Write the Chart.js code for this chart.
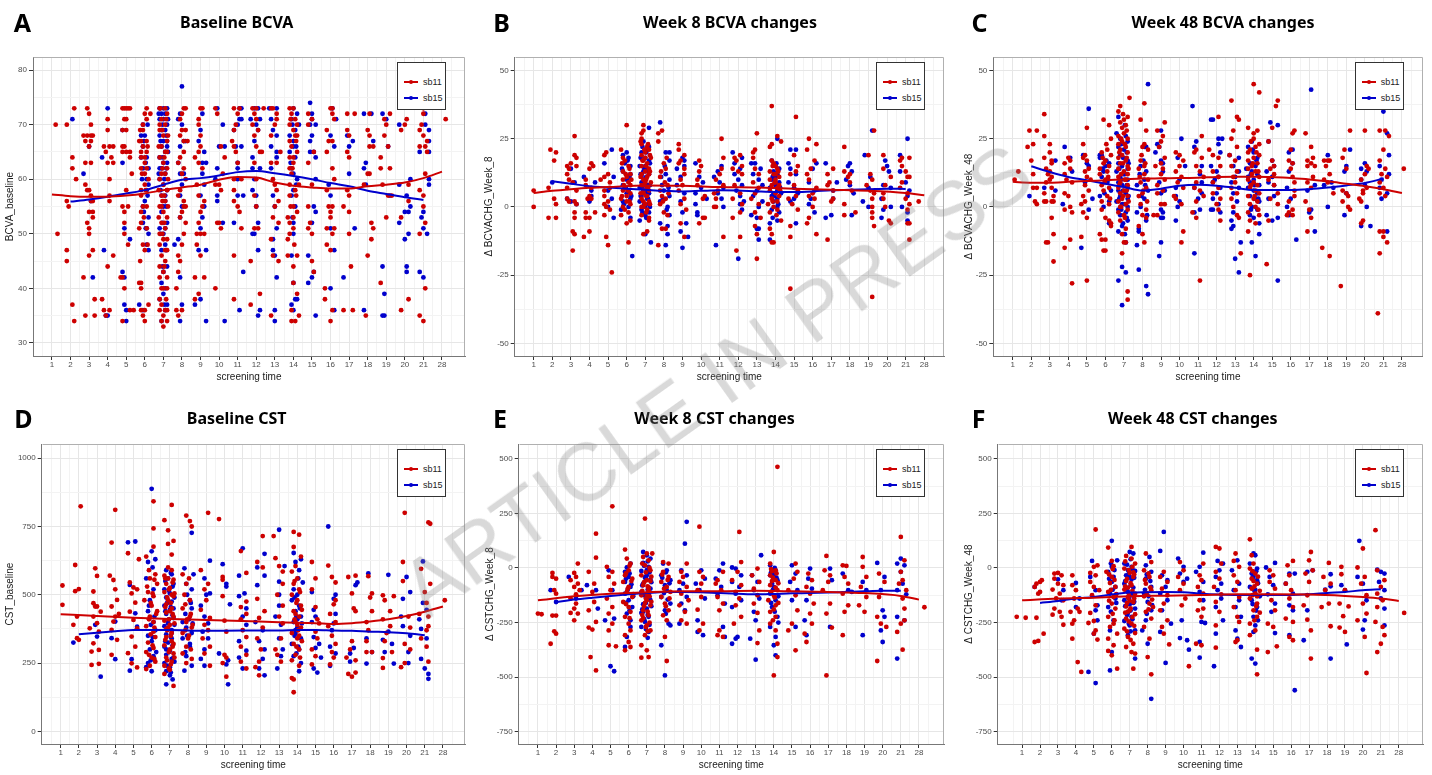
<!DOCTYPE html>
<html>
<head>
<meta charset="utf-8">
<script src="https://cdn.jsdelivr.net/npm/chart.js@4"></script>
<style>
  body { margin: 0; background: #fff; }
  #page { position: relative; width: 1432px; height: 775px; overflow: hidden; background: #fff; font-family: "Liberation Sans", Arial, sans-serif; }
  .panel { position: absolute; }
  .panel canvas { position: absolute; left: 0; top: 0; }
  .letter { position: absolute; transform: translate(-50%, -50%); font: bold 25px "Noto Sans", sans-serif; color: #000; }
  .title { position: absolute; transform: translate(-50%, -50%); font: bold 16px "Noto Sans", sans-serif; color: #000; white-space: nowrap; }
  .legend { position: absolute; width: 49px; height: 48px; box-sizing: border-box; border: 1px solid #333; background: #fff; }
  .key { position: absolute; left: 0; width: 100%; height: 12px; }
  .key i { position: absolute; left: 6px; top: 5px; width: 14px; height: 2px; }
  .key b { position: absolute; left: 11px; top: 4px; width: 4px; height: 4px; border-radius: 50%; }
  .key span { position: absolute; left: 25px; top: 0; font-size: 9px; line-height: 12px; color: #222; }
  #mark { position: absolute; left: 716px; top: 380px; transform: translate(-50%, -50%) rotate(-35.4deg); font: 82px "Liberation Sans", Arial, sans-serif; color: rgba(128,128,128,0.3); white-space: nowrap; pointer-events: none; }
</style>
</head>
<body>
<div id="page"><div id="mark">ARTICLE IN PRESS</div></div>
<script>
const RED = '#cd0000';
const BLUE = '#0000cd';

const screeningLabels = ['1','2','3','4','5','6','7','8','9','10','11','12','13','14','15','16','17','18','19','20','21','28'];
const xGrid = [0.5,1,1.5,2,2.5,3,3.5,4,4.5,5,5.5,6,6.5,7,7.5,8,8.5,9,9.5,10,10.5,11,11.5,12,12.5,13,13.5,14,14.5,15,15.5,16,16.5,17,17.5,18,18.5,19,19.5,20,20.5,21,21.5,22,22.5];

const bcvaTicks = [30,40,50,60,70,80];
const bcvaMinor = [35,45,55,65,75];
const chgTicks = [-50,-25,0,25,50];
const chgMinor = [-37.5,-12.5,12.5,37.5];
const cstTicks = [0,250,500,750,1000];
const cstMinor = [125,375,625,875];
const cstChgTicks = [-750,-500,-250,0,250,500];
const cstChgMinor = [-625,-375,-125,125,375];

// A: Baseline BCVA
const bcvaBaseSb11 = [[1.2,70],[1.3,50],
[1.8,56],[1.9,55],[1.8,47],[1.8,45],[2.1,64],[2.1,62],[2.3,60],[2.2,73],[2.1,37],[2.2,34],[1.8,70],
[2.9,73],[3,72],[2.7,68],[2.9,68],[3.1,68],[3.2,68],[2.8,67],[3.1,67],[3,66],[2.8,63],[3.1,63],[2.8,59],[2.9,58],[3,58],[3.1,57],[3.1,56],[3.2,56],[3,54],[3.2,54],[3.2,53],[2.9,52],[3,51],[3,50],[3.2,47],[3,46],[2.7,42],[3.3,38],[2.8,35],[3.3,35],[3.1,70],
[4,71],[4,69],[3.8,66],[4.1,66],[4.3,66],[3.9,65],[4.2,64],[4,63],[4.3,63],[4.1,60],[4.1,57],[4.1,56],[4.3,46],[4,44],[3.7,38],[3.8,36],[4.1,36],[3.9,35],
[4.8,73],[4.9,73],[5,73],[5.1,73],[5.2,73],[4.9,71],[5,71],[4.8,69],[5,69],[4.8,66],[4.9,66],[4.8,65],[5,65],[5.2,65],[5.2,64],[5.3,61],[5,58],[4.8,55],[5.1,55],[4.9,54],[4.9,52],[4.9,50],[5.1,48],[4.7,42],[4.8,42],[4.9,40],[5.2,36],[5.4,36],[4.8,34],
[6.1,73],[6,72],[6.3,72],[6.1,71],[5.9,70],[5.9,69],[5.7,67],[5.8,67],[6.1,67],[5.9,66],[5.8,65],[6.1,65],[5.8,64],[6,64],[6,63],[5.8,62],[6.1,62],[6,61],[6.2,60],[6,59],[5.8,58],[5.8,57],[5.9,55],[6.1,55],[5.8,54],[5.8,52],[5.7,51],[6.1,51],[5.9,48],[6,47],[5.7,41],[5.8,41],[5.8,40],[6.2,37],[5.8,36],[6,36],[5.9,35],[6,34],
[5.75,69],[6.15,66],[5.85,61],[6.05,58],[5.95,53],[6.15,48],[5.75,45],
[7.1,73],[6.8,73],[7.2,72],[6.9,71],[7.1,70],[6.8,69],[7,68],[7.2,67],[6.9,66],[7.1,65],[6.8,64],[7,63],[7.2,62],[6.9,61],[7.1,61],[6.8,60],[7,59],[7.2,58],[6.9,57],[7.1,56],[6.8,55],[7,54],[7.2,53],[6.9,52],[7.1,51],[6.8,50],[7,49],[7.2,47],[6.9,46],[7.1,45],[6.8,44],[7,43],[7.2,42],[6.8,42],[7,40],[7.2,40],[6.8,38],[7.1,36],[6.8,36],[7,35],[7.2,34],[6.9,34],[7,33],[7.1,47],[6.9,55],[7.2,65],[6.8,70],
[6.85,73],[7.15,71],[6.95,69],[7.25,68],[6.75,66],[7.05,64],[6.95,62],[7.25,60],[6.75,58],[7.05,57],[6.95,56],[7.25,55],[6.75,53],[7.05,52],[6.95,50],[7.2,49],[6.8,48],[7.05,44],[6.9,40],[7.15,38],[6.9,37],[7.2,36],
[8.1,73],[8.2,73],[8,72],[7.9,71],[8,69],[8.2,69],[7.9,68],[8.1,67],[8.3,67],[8.1,65],[7.9,64],[7.8,63],[8.1,62],[8,61],[8.2,60],[7.9,58],[7.8,57],[8.1,56],[8.1,55],[8.2,55],[8,54],[7.9,53],[8.2,52],[8.1,50],[8,48],[7.8,46],[7.9,45],[7.8,43],[7.7,40],[7.7,36],[8,36],[7.8,35],
[9,73],[9.1,73],[8.9,71],[8.9,70],[9,68],[9,66],[8.9,65],[8.7,64],[8.9,63],[9.1,62],[8.8,59],[8.9,57],[9.2,56],[9.1,55],[9,54],[8.9,52],[8.8,50],[9,50],[9.2,50],[8.8,48],[9,46],[8.7,42],[9.2,42],[8.9,39],[8.7,38],
[9.8,73],[9.9,72],[10.1,66],[10.3,64],[10.2,61],[9.8,59],[10,59],[10.1,58],[9.9,52],[10,52],[10.1,51],[9.8,40],
[10.8,73],[11.1,73],[11,72],[10.9,70],[10.8,69],[10.7,67],[10.8,66],[10.9,65],[11,63],[10.8,60],[11.2,60],[10.8,58],[10.8,56],[11,55],[11.1,54],[11.2,51],[10.8,46],[10.8,38],
[11.8,73],[12,73],[12.4,73],[11.9,72],[12,71],[11.8,70],[12.1,69],[11.9,68],[12,66],[12.2,65],[12.3,65],[11.9,63],[12,60],[11.9,57],[12,55],[11.9,51],[12.1,51],[11.7,45],[12.2,39],[11.7,37],
[12.8,73],[12.9,73],[13.1,72],[13.1,71],[13,70],[12.8,68],[13.3,65],[12.8,63],[13.1,63],[12.9,60],[13,59],[13.1,58],[13.2,56],[13,55],[12.9,53],[13.2,52],[12.8,49],[12.9,46],[13.2,45],[12.8,35],
[13.8,73],[14,73],[13.9,72],[14.1,71],[13.8,70],[14.2,70],[14,69],[14.1,68],[14.2,68],[13.8,67],[13.9,66],[14.2,65],[13.8,64],[14,64],[14,63],[13.8,62],[13.9,61],[13.8,59],[14.3,59],[14.1,58],[13.8,57],[14,55],[14.2,54],[13.7,53],[14,53],[13.8,52],[14,51],[13.8,50],[13.7,49],[13.7,46],[14.2,46],[14,44],[14,41],[14.2,39],[13.9,36],[14.3,35],[13.9,34],[14.1,34],
[13.85,71],[14.15,67],[13.95,62],[14.15,57],[13.85,55],[14.05,48],
[14.8,72],[15,71],[14.8,70],[15.1,65],[14.8,63],[15,59],[14.8,55],[14.9,52],[14.8,51],[15,50],[15,45],[15.1,43],
[16,73],[16.1,73],[16.1,72],[16.2,71],[15.8,69],[15.9,67],[16.1,67],[15.8,65],[16.1,62],[16.2,60],[15.8,58],[15.9,55],[16.1,55],[16,54],[16,53],[15.8,51],[16.2,51],[16.1,50],[15.8,48],[16,47],[15.7,40],[15.7,38],[16.1,36],[16,34],
[16.9,72],[17.3,72],[16.9,69],[17,68],[16.9,65],[17,64],[16.9,58],[17,57],[16.7,55],[17,54],[17,50],[17.1,44],[16.7,36],[17.2,36],
[18.1,72],[18,69],[18.1,68],[18.1,66],[18.3,66],[18,61],[18.1,61],[17.8,59],[18.2,52],[18.3,51],[18.2,49],[18,46],[17.9,35],
[19.2,72],[18.9,71],[19,70],[18.9,68],[19.1,66],[18.7,64],[18.7,62],[19.2,62],[18.8,59],[19.1,57],[19.3,57],[19,53],[18.7,41],
[20.1,71],[20,70],[19.8,69],[20.2,59],[20.2,56],[19.8,53],[20.2,38],[19.8,36],
[21,73],[21,72],[20.9,70],[20.8,69],[21,68],[21.2,67],[20.8,66],[21.1,66],[21.2,65],[21.1,61],[20.8,58],[21,57],[21,55],[21.1,52],[20.8,50],[21.1,40],[20.8,35],[21,34],
[22.2,71]];
const bcvaBaseSb15 = [[2.1,71],
[3,66],[2.7,61],[3.1,56],[3.2,42],
[4,73],[3.7,64],[3.8,47],[3.9,35],[4,35],
[4.8,69],[4.8,63],[4.9,51],[5.2,49],[4.8,43],[4.9,42],[4.9,37],[5,36],[5,34],
[5.9,70],[5.8,68],[6,68],[5.9,66],[5.8,64],[6.1,64],[5.9,62],[6.2,62],[6.1,60],[6.2,59],[6.1,58],[6,56],[5.9,55],[6.2,53],[5.9,52],[6.1,51],[6.2,50],[6.1,48],[6.2,47],[5.7,37],[5.9,36],
[6.15,70],[5.95,67],[6.05,63],[5.85,60],[6.15,57],[5.95,54],[6.05,51],
[6.8,73],[7,73],[7.2,73],[6.9,72],[7.1,72],[6.8,71],[7,71],[7.2,70],[6.9,69],[7.1,69],[6.8,68],[7,67],[7.2,67],[6.9,66],[7.1,65],[6.8,64],[7,63],[7.2,63],[6.9,62],[7.1,61],[6.8,60],[7,59],[7.2,58],[6.9,57],[7.1,56],[7,55],[6.9,54],[7.2,52],[6.8,51],[7,50],[7.1,48],[6.9,47],[7.2,44],[7,43],[6.9,41],[7.1,40],[7,39],[6.8,38],[7.2,37],[7.1,36],[6.9,34],[7.1,57],[6.8,62],[7.2,66],
[6.75,72],[7.25,71],[6.95,70],[7.15,68],[6.85,67],[7.25,65],[6.95,64],[7.15,62],[6.75,61],[7.05,60],[6.85,58],[7.15,55],[6.95,52],[7.1,51],[6.85,50],[7.15,47],[6.95,44],[7.05,37],
[8,77],[7.9,72],[7.8,71],[8,70],[8.1,67],[8.2,67],[7.9,66],[7.8,63],[7.9,61],[8.1,61],[8,59],[7.9,57],[8,55],[7.9,53],[7.8,49],[7.6,48],[7.9,42],[8,37],[7.9,34],
[9.1,72],[9,69],[8.9,67],[9.2,65],[9.1,63],[9.3,63],[9.1,61],[9.2,59],[9,57],[9.2,55],[9.1,53],[9,51],[8.9,47],[9.3,47],[8.7,37],[9,38],[9.3,34],
[9.9,73],[10.2,70],[10,66],[10.3,66],[9.9,62],[9.8,60],[9.9,57],[9.9,56],[10.2,52],[10.3,34],
[11.1,73],[11.2,73],[11.1,71],[11.2,71],[11,70],[10.8,69],[10.9,66],[11.2,66],[11,63],[11,62],[11,60],[11,57],[11.3,57],[10.8,52],[11.3,43],[11.1,36],
[11.9,73],[12.1,73],[11.7,71],[12.2,71],[12,70],[12.1,69],[11.9,67],[11.8,64],[11.8,62],[12.2,62],[11.9,60],[11.8,58],[12,57],[12,55],[12.1,52],[11.8,50],[11.9,50],[12.1,47],[12.2,36],[12.1,35],
[12.7,73],[13.1,73],[12.8,71],[12.9,69],[13.1,68],[12.8,66],[13.1,65],[13.1,64],[12.8,62],[12.9,57],[13,55],[13.1,51],[12.9,49],[12.9,47],[13,46],[13.1,42],[13,36],[13,34],
[14,73],[14.2,72],[13.9,71],[14.3,70],[14.1,69],[13.8,68],[14,67],[14,66],[13.8,65],[14.1,64],[13.9,62],[14,61],[14.2,60],[14,58],[13.9,57],[14.1,55],[14,52],[14,50],[13.9,46],[14,41],[14.1,38],[14.2,38],[13.9,37],[14,36],
[13.95,70],[14.15,66],[13.85,63],[14.15,59],[13.95,53],
[14.9,74],[15,72],[15,71],[14.9,70],[15.2,70],[15,68],[14.9,67],[14.9,65],[15.1,65],[15.2,64],[15.2,60],[15.1,55],[15.2,54],[15,52],[14.8,46],[15.1,43],[15,42],[14.8,41],[15.2,35],
[16.1,73],[16.3,71],[16,68],[16.2,66],[15.9,59],[16,57],[16,51],[16.2,47],[16,40],[16.2,36],
[16.9,68],[17.2,67],[17,66],[17,61],[17.3,51],[16.7,42],
[17.8,72],[18.2,72],[18.3,67],[17.9,63],[17.8,62],[17.9,59],[17.8,36],
[18.8,72],[19,71],[19.1,66],[19.2,57],[18.8,44],[18.9,39],[18.8,35],[18.9,35],
[19.7,70],[19.7,59],[20.3,60],[20.1,57],[20,54],[20.2,54],[19.7,52],[20.2,50],[20,49],[20.1,44],[20.1,43],[20.3,55],
[21.1,72],[21.1,70],[21.3,69],[21.3,67],[20.8,65],[21.3,65],[21.3,60],[21.3,59],[21,54],[20.9,53],[21,51],[21.2,50],[20.8,43],[21,42]];
const bcvaBaseFit11 = [[1,57.2],[2,56.9],[3,56.8],[4,56.8],[5,57.0],[6,57.4],[7,58.0],[8,58.5],[9,59.0],[10,59.9],[11,60.4],[12,60.3],[13,59.4],[14,58.8],[15,58.5],[16,58.3],[17,58.3],[18,58.7],[19,59.0],[20,59.4],[21,60.2],[22,61.4]];
const bcvaBaseFit15 = [[2,55.9],[3,56.3],[4,56.8],[5,57.4],[6,58.0],[7,59.0],[8,59.9],[9,60.2],[10,60.7],[11,61.3],[12,61.5],[13,61.1],[14,60.6],[15,60.0],[16,59.3],[17,58.7],[18,57.9],[19,57.3],[20,56.7],[21,56.2]];

// B: Week 8 BCVA changes
const bcvaW8Sb11 = [[1,6],[1,0],
[1.9,21],[2.1,17],[2.2,20],[1.8,7],[2.1,3],[2.2,1],[1.8,-4],[2.2,-4],
[3.2,26],[3.2,19],[3.3,18],[3,16],[2.8,15],[3.3,15],[2.9,14],[2.8,12],[2.9,10],[3.1,9],[2.8,7],[3.3,6],[2.8,3],[2.9,2],[3.2,2],[3.3,1],[3.2,-2],[3.2,-4],[3.1,-9],[3.2,-10],[3.1,-16],
[4.1,16],[4.2,15],[4,14],[3.8,10],[3.8,8],[4.1,7],[4,4],[4.1,3],[3.9,3],[3.8,-2],[4.3,-2],[3.8,-4],[4,-4],[4,-9],[3.7,-11],
[4.9,20],[4.8,19],[5,12],[4.8,11],[4.6,10],[5.1,9],[5.1,7],[4.8,6],[4.8,4],[5,2],[4.8,1],[4.9,0],[5.1,-1],[4.8,-3],[4.9,-11],[5,-14],[5.2,-24],
[6,30],[5.7,21],[5.8,18],[5.9,17],[6.1,15],[5.8,13],[6.2,12],[6,11],[5.8,10],[6.1,9],[6.2,8],[5.9,7],[5.8,6],[6.2,5],[6,4],[5.7,3],[6,2],[6.2,1],[5.8,0],[6.1,-2],[5.7,-3],[6.2,-5],[6,-6],[6.1,-13],
[5.75,16],[6.15,14],[5.95,12],[6.25,10],[5.85,8],[6.05,6],[5.75,4],[6.15,2],[5.9,-1],
[6.9,30],[6.9,28],[6.8,27],[6.8,25],[6.8,23],[7.1,22],[7.2,21],[7,20],[6.8,19],[7.3,18],[6.9,17],[7.1,16],[6.8,15],[7.2,14],[7,13],[6.8,12],[7.1,11],[6.9,10],[7.3,9],[6.8,8],[7.1,7],[7.2,6],[6.9,5],[7.1,4],[6.8,3],[7.2,2],[7,1],[6.9,0],[7.1,-1],[6.8,-3],[7.2,-5],[7.1,-9],[6.9,-10],[7,18],[7.2,12],[6.9,6],[7,9],
[6.75,24],[7.15,23],[6.95,21],[7.25,19],[6.85,17],[7.05,15],[7.25,13],[6.75,11],[7.05,10],[6.9,8],[7.15,7],[6.75,5],[7.05,4],[6.9,2],[7.25,1],[6.8,0],[7.05,-2],[7.2,-4],
[7.9,28],[7.7,27],[7.7,24],[8,16],[8.1,14],[7.8,11],[8.2,8],[7.8,6],[7.9,4],[8.1,3],[7.8,1],[8,-2],[8.2,-3],[7.9,-8],[8.1,-8],[7.7,-14],
[8.15,18],[7.85,13],[8.05,9],[8.25,5],[7.95,2],
[8.8,23],[8.8,21],[9.1,19],[8.9,17],[8.8,16],[9.1,14],[9.1,12],[8.9,10],[9,8],[8.8,6],[9.1,3],[8.9,1],[9.2,-1],[8.9,-6],[9.1,-11],
[9.9,17],[10,15],[9.9,13],[9.8,10],[9.8,8],[10.2,4],[10.1,3],[10.1,-4],[10.2,-4],[9.9,-6],
[11.1,25],[11.2,18],[11.1,14],[11,12],[10.8,10],[11.2,8],[10.9,6],[10.7,5],[10.8,3],[10.7,0],[10.8,0],[11.2,-11],
[12.1,19],[11.8,18],[11.9,17],[12.2,15],[11.7,14],[12,13],[12.2,12],[11.8,8],[12.1,5],[11.7,3],[12.2,1],[12.1,-2],[11.7,-4],[12.1,-11],[11.9,-16],
[13,27],[12.9,21],[12.8,20],[12.8,18],[12.9,14],[13.1,12],[12.8,9],[13.1,7],[12.9,5],[12.7,3],[13.1,1],[12.9,-2],[13.2,-4],[12.9,-7],[13,-10],[13,-19],
[13.8,37],[14.1,26],[14.3,24],[13.8,23],[13.7,22],[13.8,17],[13.9,16],[14,15],[14.1,14],[13.7,13],[14,12],[14.2,11],[13.7,10],[14,9],[13.8,8],[14.1,7],[13.7,6],[14,5],[14.2,4],[13.8,3],[14.1,2],[13.6,1],[13.9,0],[14.1,-1],[13.7,-2],[14.3,-5],[13.7,-8],[13.8,-10],[13.8,-13],[13.9,-13],[14,10],[13.9,12],[14.2,8],
[13.85,15],[14.15,13],[13.95,9],[14.25,6],[13.85,2],[14.05,-3],
[15.1,33],[15,19],[15.2,15],[15.1,13],[14.8,12],[15,8],[15.2,6],[15.1,4],[14.7,3],[14.9,1],[15.2,-1],[14.8,-7],[14.8,-11],[14.8,-30],
[15.8,25],[16.2,23],[15.7,21],[16.1,17],[15.9,14],[15.7,12],[15.8,10],[16.2,7],[16,5],[15.8,4],[16.1,3],[16,0],[15.8,-4],[15.7,-6],[16.2,-10],
[17.1,14],[16.8,12],[16.9,9],[16.8,8],[17.1,6],[17.1,3],[17,2],[16.8,-12],
[17.7,22],[17.7,13],[18,12],[17.9,11],[18,9],[18.1,6],[17.7,1],[18.3,-2],[17.7,-3],
[19.3,28],[19,19],[19.1,12],[19.2,10],[18.9,8],[19.1,6],[19.3,5],[19.2,3],[19.2,0],[19.2,-2],[19.2,-4],[19.3,-7],[19.2,-33],
[19.8,19],[19.8,14],[20.2,11],[19.9,8],[19.8,5],[19.8,3],[19.9,0],[20.1,-5],[20.2,-6],
[20.8,18],[21.2,18],[20.7,17],[20.8,15],[21,13],[21.1,11],[21.2,11],[20.8,9],[20.7,7],[21.1,5],[21,3],[21.2,1],[21.1,-1],[21.1,-6],[21.2,-6],[21.2,-12],
[21.7,2]];
const bcvaW8Sb15 = [[2,9],
[3,14],[3.2,9],[2.8,3],[3,2],[3.3,1],
[3.7,11],[4.3,9],[4.1,6],[4.1,4],[4,2],
[5.2,21],[4.8,16],[5.3,11],[5,6],[5.2,3],[5,0],[5.3,-4],
[6,20],[5.8,19],[6.1,18],[5.9,16],[6.2,15],[5.8,13],[6.2,12],[6,10],[5.8,8],[6.1,6],[6,5],[6.2,3],[5.8,2],[6.1,0],[5.7,-1],[6.2,-4],[6.3,-18],
[6.05,17],[5.75,14],[6.15,11],[5.95,7],[6.25,4],[5.85,1],
[7.2,29],[6.9,24],[7.2,22],[7.1,21],[6.8,20],[7,18],[7.2,17],[6.7,15],[7.1,14],[6.9,13],[7.2,12],[6.8,11],[7,10],[6.8,9],[7.1,8],[6.7,7],[6.9,6],[7.2,5],[6.8,4],[7.1,3],[6.7,2],[7.2,1],[7,0],[6.8,-1],[7.2,-2],[7,-3],[6.7,-5],[7,-10],[7.3,-13],[7,15],[6.9,9],[7.1,6],[6.8,12],
[6.85,22],[7.05,20],[6.75,18],[7.25,16],[6.95,14],[7.15,13],[6.75,12],[7.05,11],[6.95,9],[7.25,8],[6.85,7],[7.05,5],[6.75,4],[7.15,3],[6.95,1],[7.25,0],[6.85,-2],[7.05,-4],
[7.8,31],[8.1,20],[8.3,20],[8.3,17],[8.1,12],[8.3,10],[7.9,8],[8,6],[8.3,4],[7.8,2],[8.2,0],[8.3,-3],[7.8,-6],[8.2,-7],[8.2,-10],[8.1,-14],[8.2,-18],
[8.05,15],[7.85,11],[8.25,7],[7.95,3],[8.15,-1],
[9,18],[9.1,17],[9.1,15],[8.7,14],[8.9,11],[8.7,8],[9.1,5],[8.9,2],[9,-2],[9.2,-6],[8.9,-9],[9.3,-11],[9,-15],
[9.7,16],[9.9,11],[10.1,9],[10,7],[9.7,5],[10.3,3],[9.7,1],[9.8,-2],[9.8,-3],
[11.1,15],[10.9,13],[10.7,11],[11,9],[11.2,7],[10.9,5],[11.1,3],[11.2,0],[10.8,-14],
[11.7,20],[12.2,18],[11.8,16],[12.1,14],[11.8,12],[12,10],[12.2,8],[11.9,6],[12.1,4],[12.3,2],[12.1,1],[12.2,-1],[12,-19],
[12.7,16],[12.9,16],[13.2,14],[12.8,12],[13.1,10],[13.3,8],[13,6],[12.8,4],[13.3,2],[13.1,0],[12.7,-3],[13,-4],[13,-8],[13.1,-8],[13.1,-12],
[14.1,25],[13.8,17],[14,15],[14.2,14],[13.9,13],[14.1,12],[13.8,10],[14.2,9],[14,8],[13.7,7],[14.1,6],[14.3,5],[13.8,4],[14.1,3],[13.9,2],[14.1,0],[13.8,-1],[14.2,-2],[14.1,-5],[13.7,-6],[13.7,-12],[14,11],[13.9,5],
[14.05,16],[13.85,11],[14.25,7],[13.95,4],[14.15,1],[13.85,-4],
[14.8,21],[15.1,21],[14.7,16],[14.8,14],[15.1,12],[14.7,9],[15,7],[15.2,5],[15,3],[14.8,2],[15.1,-6],
[16.2,16],[16,14],[15.8,9],[16.1,6],[15.9,3],[15.8,1],[16.1,-2],
[16.7,16],[17.3,9],[17.1,6],[17.1,3],[17,-3],[16.7,-4],
[18,16],[17.9,15],[18.1,13],[17.8,10],[18,8],[18.2,5],[18.1,-3],
[19.2,28],[18.8,19],[19.1,11],[19,7],[18.7,2],[19,0],
[19.9,17],[20,15],[20.1,13],[19.8,8],[20.2,7],[19.7,3],[19.8,-1],[19.7,-4],[20.2,0],
[21.1,25],[20.7,19],[20.7,13],[21,9],[21.2,6],[21.1,4],[20.8,0],[21.1,-2],[21.1,-5]];
const bcvaW8Fit11 = [[1,5.1],[2,5.9],[3,6.5],[4,7.0],[5,7.3],[7,7.9],[9,7.8],[11,7.3],[13,7.1],[15,6.7],[17,6.3],[19,5.9],[21,5.1],[22,4.3]];
const bcvaW8Fit15 = [[2,9.4],[3,8.5],[4,7.6],[5,7.1],[6,6.7],[7,6.3],[8,5.9],[9,5.7],[10,5.9],[11,6.1],[12,6.0],[13,5.7],[14,5.5],[15,5.5],[16,5.7],[17,6.1],[18,6.3],[19,6.5],[20,6.7],[21,6.6]];

// C: Week 48 BCVA changes
const bcvaW48Sb11 = [[1.1,10],[1.3,13],
[1.9,28],[1.8,22],[2.1,23],[2,17],[2.1,12],[2.1,7],[2.3,7],[2.2,2],[2.3,1],[2.3,28],
[2.7,34],[2.7,26],[3,23],[3,20],[2.7,18],[3.1,17],[3.1,16],[2.8,14],[3,13],[2.9,12],[3.1,11],[3,10],[2.8,9],[3.1,7],[2.7,5],[3.2,4],[2.7,2],[2.8,2],[3.1,2],[3.2,2],[3.1,-4],[3.2,-10],[2.8,-13],[2.9,-13],[3.2,-20],
[4,18],[4.1,17],[3.8,16],[4.1,14],[3.8,12],[3.9,10],[4.2,9],[3.8,5],[4,4],[4.1,0],[3.8,-1],[4.2,-2],[4.1,-12],[3.8,-15],[4.2,-28],
[5,29],[4.8,23],[4.9,19],[4.8,18],[5,17],[5.1,14],[4.9,13],[5,11],[5.2,10],[4.9,8],[5.1,6],[4.8,4],[4.9,2],[4.7,1],[4.8,-2],[5,-4],[4.7,-11],[5,-27],
[5.9,32],[6.2,30],[6.3,25],[6.1,21],[5.8,20],[6.3,19],[6,17],[5.9,16],[6.2,15],[5.7,14],[6.1,13],[5.7,12],[6,10],[5.8,8],[6.2,7],[5.9,6],[6.1,4],[5.8,2],[6.2,1],[5.8,-1],[6,-4],[6.2,-5],[6.3,-6],[6.3,-7],[5.7,-10],[5.8,-12],[6,-12],[5.9,-16],[6,-16],
[6.05,23],[5.85,18],[6.15,11],[5.95,9],[6.25,3],
[7.3,40],[6.8,37],[6.7,35],[7.2,33],[7,32],[6.8,31],[7.1,30],[6.9,29],[7,27],[6.7,26],[7.2,25],[6.9,24],[6.7,23],[7.1,22],[6.8,21],[7.2,20],[6.9,19],[6.7,18],[7.1,17],[6.8,16],[7.2,15],[6.7,14],[7,13],[7.2,12],[6.7,11],[7.1,10],[6.8,9],[7.2,8],[6.7,7],[7,6],[6.8,5],[7.2,4],[6.9,3],[6.7,2],[7.1,1],[6.8,0],[7.2,-1],[6.7,-2],[7,-3],[6.8,-5],[7.1,-8],[7,-13],[7.1,-13],[6.9,-17],[7.2,-31],[7.2,-34],
[6.95,34],[7.15,28],[6.85,25],[7.05,23],[6.75,20],[7.15,18],[6.95,16],[7.25,14],[6.85,12],[7.05,10],[6.75,8],[7.15,6],[6.95,4],[7.25,2],[6.85,0],[7.05,-4],[6.9,-10],
[8.1,38],[7.9,32],[8.2,28],[8.1,23],[8,22],[8.3,21],[7.9,17],[8.1,15],[7.8,14],[8.1,12],[8.3,10],[7.9,9],[8.2,7],[8,5],[7.8,4],[7.9,1],[8.2,-1],[8,-3],[8.2,-4],[7.8,-7],[8,-10],[8.1,-13],
[7.95,19],[8.15,16],[7.85,11],[8.05,6],[8.25,2],
[9.2,31],[8.8,28],[9.1,26],[9,24],[8.9,22],[9.2,18],[9,16],[8.7,15],[9.1,14],[9,12],[9.2,10],[8.8,8],[9.1,6],[8.8,5],[9,1],[9.2,1],[8.6,-3],[8.8,-3],
[9.8,20],[10,19],[10.2,17],[10,15],[9.8,13],[10.1,11],[9.9,9],[10.2,7],[9.7,4],[9.8,3],[10.1,1],[10.2,-9],[10.1,-13],
[11.2,26],[10.9,21],[10.8,20],[11.2,18],[10.9,15],[11.1,13],[11.3,11],[10.9,9],[10.8,7],[11.1,6],[11.3,4],[10.9,2],[10.7,-2],[10.9,-4],[11.1,-27],
[12.1,33],[11.6,21],[11.8,19],[12.1,18],[12.2,15],[11.8,13],[12.1,11],[11.8,9],[12.1,7],[11.8,5],[12.2,3],[12,1],[12.1,-1],[12.2,-5],
[12.8,39],[13.1,33],[13.2,32],[12.9,28],[12.8,25],[13.1,22],[12.7,19],[13,17],[12.8,15],[13.1,13],[12.9,11],[13,9],[12.8,7],[13.1,5],[12.8,3],[12.9,0],[13.1,-3],[13.2,-4],[13.3,-17],
[14,45],[14.3,42],[13.7,29],[14.2,28],[14,27],[14,25],[14.3,23],[14.1,22],[13.8,21],[13.7,20],[14.3,19],[14,18],[13.7,17],[14.2,16],[13.9,15],[13.7,14],[14.1,13],[13.9,12],[14.3,11],[13.7,10],[14,9],[14.2,8],[13.8,7],[14.1,6],[14.3,5],[13.7,4],[14,3],[14.2,2],[13.8,1],[14.1,0],[13.7,-2],[14.3,-3],[13.8,-5],[14.1,-6],[13.7,-9],[13.8,-25],
[13.85,24],[14.15,20],[13.95,16],[14.25,13],[13.85,8],[14.05,4],[14.25,-1],
[15.3,39],[15.2,37],[15,29],[14.8,24],[15,17],[15.1,15],[14.9,14],[15.1,12],[14.8,10],[15.1,8],[15.3,5],[14.9,3],[15.3,1],[14.8,-5],[14.7,-21],
[16.2,28],[16.1,27],[16,21],[15.9,17],[16.1,16],[16,14],[16.1,11],[16.2,9],[16.2,6],[16.2,4],[15.9,2],[16.1,-1],[15.8,-3],[16.1,-3],[15.9,-2],
[16.8,27],[17.1,22],[17.2,18],[16.9,17],[17.1,16],[16.9,15],[17.3,15],[17.2,11],[16.9,9],[17.1,7],[16.8,2],[17,-1],[17.1,-4],[16.9,-9],
[17.8,17],[18,17],[18.1,17],[17.9,15],[18.1,12],[17.8,10],[18,9],[18.3,5],[17.7,-15],[18.1,-18],
[18.9,21],[18.8,18],[19,14],[18.8,6],[19,5],[19.1,4],[18.8,2],[19.1,0],[19.2,-1],[18.7,-29],[19.2,28],
[20,28],[20.1,15],[20.2,14],[20,12],[19.8,10],[20.1,7],[19.9,6],[19.9,5],[19.7,3],[19.8,2],[19.9,-5],[19.8,-6],
[20.8,28],[21.1,28],[21.3,26],[21,21],[20.8,17],[21.1,14],[20.9,12],[21.2,11],[20.8,9],[21,7],[20.8,5],[21.1,4],[20.8,-9],[21,-9],[21,-11],[21.2,-13],[20.8,-17],[20.7,-39],
[22.1,14]];
const bcvaW48Sb15 = [[1.9,4],
[3.3,17],[2.7,7],[3.3,6],
[3.8,22],[4.1,18],[4.2,13],[3.7,1],
[5.1,36],[4.8,19],[5,16],[5.1,15],[4.9,9],[5.3,3],[5.1,-1],[4.7,-15],
[5.7,19],[5.8,19],[5.7,18],[6.2,16],[6,15],[5.9,13],[5.8,11],[6.1,9],[6.3,6],[5.7,4],[6.2,2],[5.9,0],[6.2,-6],
[6.05,17],[5.85,14],[6.15,10],[5.95,5],
[6.7,33],[6.6,27],[7.1,26],[6.8,25],[7.2,24],[6.7,22],[7,21],[6.8,19],[7.2,17],[6.7,16],[6.9,15],[7.2,14],[6.6,13],[7,12],[6.8,11],[7.2,10],[6.7,9],[6.9,8],[7.2,7],[6.7,6],[7.1,5],[6.8,4],[7.2,3],[6.6,2],[6.9,1],[7.2,0],[6.7,-1],[7.1,-2],[6.8,-3],[7.2,-5],[6.9,-7],[6.7,-9],[7.1,-13],[6.9,-22],[7.1,-24],[6.7,-27],[6.9,-36],
[7.05,30],[6.85,23],[7.15,20],[6.95,18],[7.25,16],[6.75,14],[7.05,12],[6.85,10],[7.15,8],[6.95,6],[7.25,4],[6.75,3],[7.05,1],[6.85,-1],[7.15,-4],[6.95,-6],[7.05,-10],
[8.3,45],[8.1,22],[8.2,22],[7.9,15],[8.2,13],[8.1,10],[7.7,8],[8.3,6],[8.1,3],[7.9,0],[7.7,-2],[8.2,-5],[7.8,-8],[7.8,-9],[7.7,-14],[7.8,-23],[8.2,-29],[8.3,-32],
[8.05,17],[7.85,12],[8.15,8],[7.95,4],[8.25,-3],
[9,28],[8.8,23],[8.9,22],[8.7,20],[9,17],[9.1,16],[9.1,13],[8.9,9],[9.2,6],[9,5],[9,-1],[9.1,-2],[9,-4],[9.1,-4],[9,-13],[8.9,-18],
[10.1,25],[9.9,18],[10.3,15],[10,10],[9.8,7],[9.8,4],[10,2],[9.9,0],[9.8,-5],
[10.7,37],[10.9,24],[10.8,22],[11.2,15],[11.1,12],[11.2,9],[10.8,7],[11.2,5],[11,3],[11.1,-1],[10.8,-2],[10.8,-17],
[11.7,32],[11.8,32],[12.1,25],[12.3,25],[12.1,23],[12.2,20],[11.7,15],[12,13],[12.1,11],[11.9,10],[11.8,9],[12.2,7],[12,5],[11.8,3],[12.1,1],[11.7,-1],[11.8,-1],[12.2,-2],
[12.7,19],[13.2,18],[12.9,15],[13.2,13],[13,11],[12.8,9],[13.2,7],[12.9,5],[13.1,2],[12.9,-2],[12.8,-5],[12.8,-8],[12.9,-7],[13.3,-13],[13,-19],[13.2,-24],
[13.9,24],[13.7,22],[14,20],[14.2,18],[13.8,16],[14.1,15],[13.6,14],[13.9,13],[14.2,12],[13.7,11],[14,10],[13.8,9],[14.3,8],[13.7,7],[14,6],[14.2,5],[13.8,4],[14.1,3],[14.3,2],[13.9,0],[14.2,-1],[13.8,-3],[14,-4],[14.3,-6],[14.3,-10],[13.9,-13],[14.1,-18],
[13.95,21],[14.15,17],[13.85,12],[14.05,8],[14.25,3],[13.85,-1],
[14.9,31],[15.3,30],[14.8,24],[15,17],[15.1,15],[14.7,13],[15,11],[14.8,9],[15.1,8],[15.1,4],[14.8,3],[14.7,-3],[15.3,-4],[15,-5],[15.3,-27],
[16.1,21],[15.9,20],[16.1,16],[15.9,13],[15.8,7],[16,3],[15.8,0],[15.9,-3],[16.3,-12],
[17.1,43],[17.3,8],[16.9,6],[17.1,-1],[17,-2],[17.3,-9],
[18,19],[18.2,9],[17.8,8],[18.3,7],[18,0],
[19.2,21],[19,15],[18.9,13],[19,5],[18.9,-3],
[20,16],[19.8,14],[20.1,13],[19.8,10],[20,8],[20.1,0],[19.8,-7],[20.3,-7],
[21,35],[21.2,27],[21.3,19],[20.8,15],[21.3,12],[20.9,10],[20.8,7],[21.2,5],[20.9,3],[21.2,-9]];
const bcvaW48Fit11 = [[1,9.2],[2,8.9],[3,8.9],[4,9.2],[5,9.5],[6,9.8],[7,10.1],[8,10.4],[9,10.5],[10,10.6],[11,10.7],[12,11.0],[13,11.1],[14,11.1],[15,11.0],[16,10.6],[17,10.1],[18,9.4],[19,8.5],[20,7.6],[21,6.5],[22,5.1]];
const bcvaW48Fit15 = [[2,14.9],[3,12.8],[4,11.0],[5,9.8],[6,8.5],[7,7.3],[8,6.0],[9,6.7],[10,7.8],[11,8.1],[12,7.8],[13,7.0],[14,6.2],[15,6.2],[16,6.2],[17,6.5],[18,7.1],[19,7.9],[20,8.8],[21,10.4]];

// D: Baseline CST
const cstBaseSb11 = [[1.1,534],[1.1,463],
[2.1,824],[1.8,609],[2,521],[1.8,513],[1.7,390],[1.9,420],[2,335],[1.9,341],
[2.9,597],[3,569],[2.8,512],[2.8,469],[3,457],[2.8,420],[3,396],[2.6,377],[3.1,365],[2.8,322],[2.7,292],[3.1,298],[2.7,243],[3.1,247],[2.9,457],[3.2,438],
[4,811],[3.8,691],[3.9,554],[4,520],[3.7,570],[4.1,481],[3.8,457],[4.2,430],[3.9,402],[3.8,371],[4.1,335],[3.8,280],[4,420],
[4.7,652],[4.8,545],[5,527],[5.3,630],[4.9,505],[5.1,471],[4.8,438],[5,408],[5.2,377],[4.9,347],[5.1,310],[4.7,286],[4.9,249],[5.2,234],[5.2,520],
[6.1,842],[6.1,743],[6.1,676],[5.7,640],[6.2,575],[5.9,560],[6.3,540],[5.8,510],[6.1,495],[5.6,480],[6,460],[6.3,440],[5.9,420],[6.1,400],[5.7,385],[6.1,365],[6.2,345],[5.8,325],[6.1,305],[5.7,290],[6,270],[6.2,255],[5.9,240],[5.7,228],
[5.85,590],[6.15,555],[5.75,530],[6.05,505],[5.95,470],[6.25,430],[5.85,410],[6.15,380],[5.95,355],[6.05,315],[5.85,280],[6.15,265],
[7.1,829],[6.7,773],[6.9,736],[6.9,686],[7.2,697],[7.1,647],[6.9,600],[7.1,590],[6.7,570],[7.2,555],[6.8,540],[7,525],[6.7,510],[7.2,495],[6.9,480],[6.8,465],[7.1,450],[6.8,435],[7.2,420],[6.7,405],[7,390],[6.8,375],[7.1,360],[6.8,345],[7.1,330],[6.7,315],[7,300],[7.2,285],[6.8,270],[7.1,255],[6.7,240],[7,225],[6.7,210],[7.2,166],[7,440],[6.9,380],[7.1,500],[7.2,320],[6.9,560],
[6.75,560],[7.15,545],[6.95,520],[7.25,505],[6.85,490],[7.05,470],[6.75,455],[7.15,430],[6.95,410],[7.25,395],[6.85,370],[7.05,350],[6.75,335],[7.15,310],[6.95,290],[7.25,270],[6.85,260],[7.05,245],[6.95,230],
[7.9,790],[8.1,770],[8.2,750],[7.7,575],[7.9,540],[7.8,500],[8.1,480],[7.7,450],[8.1,420],[7.9,400],[8.2,380],[7.7,360],[8,340],[7.9,310],[7.7,285],[8.2,265],[7.9,250],
[8.05,560],[7.85,465],[8.15,430],[7.95,410],[8.25,390],[7.85,370],[8.05,350],[8.15,300],
[9.1,800],[8.7,590],[9.1,540],[8.9,520],[9,480],[8.7,445],[9.2,415],[8.9,390],[9.1,370],[8.8,340],[9.2,310],[8.9,285],[9.2,240],
[9.7,777],[9.9,565],[9.9,555],[9.9,495],[10,405],[10.1,365],[10,280],[10.1,270],[10.1,200],[9.9,250],
[10.9,660],[11.2,580],[11.2,475],[10.9,455],[11.2,430],[10.9,410],[11,370],[11.2,345],[10.9,310],[11.2,280],[10.9,255],[11.2,230],
[12.1,715],[11.8,620],[12.1,600],[11.8,485],[12.2,440],[11.9,415],[12.1,380],[11.8,340],[12,300],[11.9,255],[11.7,235],[11.9,205],
[12.7,715],[12.8,634],[13,605],[13.2,585],[13.2,540],[12.9,500],[13.2,460],[13,420],[13.2,395],[13.1,340],[12.8,300],[13.1,255],[12.9,280],
[13.8,730],[14.1,720],[13.8,675],[14.2,640],[13.9,605],[13.7,585],[14,560],[13.8,540],[14.1,520],[13.7,500],[14,480],[14.2,460],[13.8,440],[14.1,420],[13.9,400],[14.2,380],[13.7,360],[14,340],[13.8,320],[14.1,300],[13.9,280],[13.7,260],[14.1,240],[13.7,195],[13.8,190],[13.8,143],[14,390],[13.9,430],[14.1,350],
[13.85,550],[14.15,510],[13.95,470],[14.25,445],[13.85,410],[14.05,370],[14.25,330],[13.95,310],[14.15,270],
[14.8,620],[15,560],[14.8,520],[15,455],[15.1,410],[15.2,395],[15,365],[15.1,340],[14.8,300],[15,275],[14.8,245],
[15.7,607],[15.9,565],[16.1,545],[16.1,480],[16,465],[15.8,430],[16.1,400],[15.7,385],[15.9,350],[16.1,320],[15.9,290],[16,270],[15.8,245],
[16.8,565],[17.2,570],[17,505],[17.1,450],[17.2,440],[17,330],[16.9,300],[16.7,270],[16.8,210],[17,200],[17.2,215],[17.2,260],
[17.9,568],[18.1,505],[18,490],[18.1,440],[17.8,400],[17.9,370],[17.8,330],[17.8,290],[18.1,290],
[18.7,498],[18.8,480],[19.1,440],[18.7,410],[19.1,385],[18.9,360],[18.8,330],[19.2,290],[18.7,268],[18.7,232],[19.3,495],
[19.9,800],[19.8,620],[19.8,550],[20.1,420],[20.2,380],[19.9,320],[20.2,300],[19.9,250],[19.7,235],
[21.2,765],[21.3,760],[20.8,595],[21.3,540],[21,510],[21.1,470],[21.2,420],[21.2,385],[21.1,370],[20.8,340],[21.1,310],[21.2,255],[20.7,430],
[22.1,480]];
const cstBaseSb15 = [[1.7,325],
[2.9,390],[3.2,200],[3,347],
[3.8,341],[4,264],[4,402],
[4.7,692],[5.1,695],[4.8,536],[5.1,432],[4.9,264],[4.8,222],[5.2,383],
[6,888],[6,659],[6.2,630],[5.8,620],[5.7,560],[6.1,520],[5.9,480],[5.8,440],[6.1,400],[6.2,370],[5.8,350],[6,330],[5.9,300],[6.1,275],[5.8,250],[5.7,235],[6,220],
[6.05,600],[5.85,460],[6.15,420],[5.95,390],[6.05,345],[6.25,290],[5.95,260],
[6.8,590],[7.1,575],[6.9,560],[7.2,540],[6.7,520],[7,505],[6.8,490],[7.1,475],[6.7,460],[7,445],[6.8,430],[7.2,415],[6.9,400],[6.7,385],[7.1,370],[6.8,355],[7.1,340],[6.9,325],[6.7,310],[7,295],[6.8,280],[7.1,265],[6.7,250],[7,235],[6.8,220],[7,205],[6.8,172],[7.2,450],[6.9,395],[7.1,360],[6.8,300],[7.2,270],
[7.05,580],[6.75,550],[7.15,530],[6.95,515],[7.25,490],[6.85,470],[7.05,455],[6.75,440],[7.15,425],[6.95,410],[7.25,390],[6.85,375],[7.05,345],[6.75,330],[7.15,315],[6.95,290],[7.25,255],[6.85,240],[7.05,215],[7.15,190],
[8.2,727],[7.8,597],[8.3,575],[7.9,540],[8.2,520],[8.1,480],[8.2,450],[7.7,400],[7.9,380],[8.2,360],[7.7,340],[8.1,310],[7.9,275],[8.2,240],[7.8,222],
[7.95,500],[8.15,470],[7.85,430],[8.05,410],[8.25,395],[7.95,350],[8.1,320],[7.85,290],
[9.2,625],[8.9,560],[9.2,505],[9,500],[8.7,460],[8.9,420],[9.1,395],[8.8,365],[9.1,340],[8.9,300],[8.7,265],[8.9,240],
[9.9,612],[10.1,540],[10.1,530],[10.3,465],[9.7,285],[10.2,260],[10.2,172],[10.1,245],
[11,670],[10.8,570],[11.1,505],[10.8,495],[11.2,450],[11,420],[11.2,390],[10.8,330],[11.2,295],[10.8,270],[11,230],
[12.2,650],[11.8,600],[12.2,570],[11.8,535],[11.7,400],[12.1,370],[11.9,330],[12.2,300],[12.1,265],[11.9,230],[12.2,205],
[13,738],[13.3,605],[13,548],[13,500],[13,460],[12.8,420],[13.1,390],[13,340],[13.2,300],[13.1,275],[12.9,230],
[13.8,653],[14.2,630],[13.9,620],[14.1,590],[14.3,545],[13.8,520],[14,500],[13.7,480],[14.1,460],[13.9,440],[14.2,420],[13.8,400],[14,380],[13.9,360],[14.2,340],[13.7,320],[14.1,300],[13.8,275],[14.2,250],[14.1,220],[14,410],[13.9,370],
[14.05,560],[13.85,490],[14.15,450],[13.95,420],[14.25,395],[13.85,350],[14.05,310],[13.95,285],
[14.8,510],[14.9,445],[15,420],[14.8,400],[14.9,345],[15.2,320],[15,305],[15.3,270],[14.9,230],[15.1,215],
[15.7,750],[16.1,500],[16,485],[16.1,430],[16,395],[15.9,370],[15.8,310],[16.1,285],[15.8,240],
[17.3,545],[17.2,535],[16.9,285],[16.9,255],[17.1,305],
[17.9,578],[17.8,340],[18.1,290],[17.8,248],
[19,573],[19,365],[18.7,335],[19.2,320],[18.8,290],[19.3,248],
[20,565],[20.2,510],[19.8,485],[19.7,420],[19.8,385],[20.2,350],[20.1,290],[20.1,250],
[20.9,622],[20.9,470],[21.1,445],[20.7,410],[20.8,375],[21.1,340],[20.8,265],[21,230],[21.2,210],[21.2,192]];
const cstBaseFit11 = [[1,429],[3,422],[5,416],[7,411],[9,408],[11,404],[13,399],[15,396],[16,393],[17,396],[18,402],[19,410],[20,422],[21,438],[22,457]];
const cstBaseFit15 = [[2,355],[3,361],[4,366],[5,371],[7,371],[9,368],[11,369],[13,369],[14,371],[15,371],[16,369],[17,368],[18,365],[19,363],[20,359],[21,352]];

// E: Week 8 CST changes
const cstW8Sb11 = [[1,-209],[1.2,-212],
[1.7,-347],[1.8,-23],[1.8,-41],[1.9,-102],[2,-49],[2,-118],[1.8,-218],[2,-218],[1.9,-290],[2,-301],
[3.2,20],[3,-23],[3.1,-41],[2.8,-56],[3.2,-72],[3,-87],[3.3,-102],[3.1,-121],[2.8,-140],[3.1,-163],[3,-186],[3.2,-209],[2.8,-206],[3,-240],
[4.2,157],[4.2,47],[3.8,-18],[4.1,-72],[4,-110],[4.1,-156],[3.8,-194],[4.2,-247],[3.8,-273],[4,-282],[3.9,-408],[4.2,-469],
[5.1,282],[4.8,5],[5.1,-18],[4.9,-41],[5.2,-72],[5,-102],[4.8,-140],[5.1,-179],[4.9,-209],[5.1,-255],[4.9,-286],[4.9,-354],[5.3,-359],
[5.8,84],[5.9,43],[6.1,20],[6,-11],[5.8,-34],[6.2,-49],[5.7,-64],[6,-87],[5.9,-110],[6.2,-133],[5.7,-156],[6,-179],[6.1,-201],[5.8,-224],[6,-255],[6.1,-286],[5.8,-308],[6,-339],[6.1,-362],[5.8,-377],
[6.05,10],[5.85,-25],[6.15,-60],[5.95,-95],[6.25,-120],[5.85,-165],[6.05,-230],
[6.9,226],[7,66],[7.3,66],[6.8,50],[7.1,35],[6.9,12],[7.2,-11],[6.7,-34],[7,-56],[6.8,-79],[7.1,-102],[6.7,-125],[7,-148],[7.2,-171],[6.8,-194],[7.1,-217],[6.7,-240],[7,-263],[7.2,-286],[6.9,-308],[6.7,-354],[7,-377],[7.1,-408],[6.7,-411],[7.1,-90],[6.9,-160],[7.2,-60],[6.8,-230],[7,-120],
[6.75,20],[7.15,0],[6.95,-20],[7.25,-40],[6.85,-65],[7.05,-85],[6.75,-105],[7.15,-130],[6.95,-140],[7.25,-155],[6.85,-175],[7.05,-200],[6.75,-215],[7.15,-250],[6.95,-270],[7.05,-290],
[8.2,20],[7.9,27],[7.9,-18],[8.2,-41],[7.8,-64],[8.1,-87],[8.3,-110],[7.8,-133],[8,-163],[8.2,-194],[7.9,-217],[8.1,-240],[8,-316],[8.1,-426],
[7.85,-30],[8.15,-55],[7.95,-95],[8.25,-140],[8.05,-175],
[8.9,-18],[9.2,20],[9,-41],[8.8,-64],[9.2,-87],[8.9,-118],[9.3,-148],[8.8,-171],[9.1,-201],[8.9,-240],[9.2,-255],
[9.9,189],[9.9,-18],[10.1,-41],[10,-72],[9.8,-102],[10,-133],[9.8,-191],[10.1,-255],[9.9,-286],
[11.2,-18],[10.9,-56],[10.8,-72],[11.1,-102],[10.9,-133],[11.2,-163],[11,-194],[11,-286],[10.9,-308],[11.2,-316],
[12.1,165],[12.2,27],[12,-18],[11.7,-56],[12.2,-79],[11.9,-110],[12.1,-140],[11.9,-171],[12.2,-224],[11.8,-255],
[13.1,-3],[12.8,-34],[13.2,-64],[12.9,-95],[13.1,-125],[12.9,-163],[13.1,-206],[13.2,-286],[13.1,-344],
[14,73],[13.8,20],[14.1,-11],[13.8,-34],[14.1,-56],[13.8,-79],[14.2,-102],[14,-125],[13.7,-148],[14.1,-171],[13.8,-201],[14.1,-224],[13.8,-255],[14.1,-286],[14.2,-347],[14,-492],[14.2,-408],[14.2,463],[13.9,-60],[14.1,-90],[13.9,-15],[14,-190],
[13.85,-5],[14.15,-25],[13.95,-45],[14.25,-70],[13.85,-110],[14.05,-135],[14.25,-160],[13.95,-240],
[15.2,20],[15.3,-18],[15.1,-49],[14.8,-102],[15.2,-125],[15.3,-194],[15,-255],[14.8,-286],[15.2,-377],
[15.9,-26],[16.1,-56],[15.8,-87],[16,-118],[16.2,-163],[16,-209],[16.1,-255],[15.8,-339],[15.7,-301],
[16.9,55],[16.8,-11],[17.1,-34],[17,-64],[16.7,-102],[17.1,-163],[16.9,-209],[17.2,-273],[16.9,-492],
[17.8,12],[18,9],[17.9,-41],[18.1,-72],[17.8,-118],[18.1,-171],[17.9,-201],[17.8,-308],
[18.9,50],[18.9,5],[19.1,-41],[18.8,-87],[19.1,-133],[18.7,-171],[19,-201],
[19.8,-26],[20.1,-64],[19.8,-133],[19.7,-224],[19.9,-255],[20.2,-270],[19.7,-426],
[21,142],[21.2,35],[21,-18],[21.1,-56],[20.9,-72],[21.3,-102],[21.1,-140],[21.2,-186],[21,-255],[20.8,-293],[21.1,-374],[21.2,-240],
[22.3,-180]];
const cstW8Sb15 = [[1.7,-102],[2,-156],
[2.7,-41],[3.1,-140],[3.4,-102],
[3.7,-79],[4.2,-102],[4.3,-186],
[4.9,-11],[5.1,-102],[4.7,-240],[5,-450],[5.2,-473],[5.2,-232],
[6.1,20],[5.9,2],[5.8,-18],[6,-41],[5.8,-64],[6.1,-87],[5.8,-118],[6,-148],[6.2,-179],[5.9,-209],[6.1,-240],[6.1,-270],[5.9,-316],[5.8,-362],
[6.05,-25],[5.85,-50],[6.15,-75],[5.95,-100],[6.25,-130],[5.85,-160],[6.05,-195],
[6.8,73],[7,58],[7.2,43],[6.8,23],[7.1,5],[6.7,-14],[7,-34],[7.2,-53],[6.8,-72],[7.1,-90],[6.7,-110],[7,-130],[7.2,-148],[6.8,-166],[7,-186],[6.7,-206],[7.1,-224],[6.9,-247],[6.7,-270],[7.1,-293],[6.9,-45],[7.1,-120],[6.8,-200],[7,-10],[7.2,-95],
[7.05,30],[6.85,10],[7.15,-20],[6.95,-40],[7.25,-65],[6.75,-80],[7.05,-100],[6.85,-125],[7.15,-140],[6.95,-160],[7.25,-175],[6.75,-190],[7.05,-215],[6.85,-235],[7.15,-260],[6.95,-280],[7.05,-320],
[7.9,20],[8.1,-11],[7.8,-34],[8.3,-56],[8,-79],[8.1,-102],[7.8,-133],[8.3,-163],[8,-194],[8.2,-255],[8.3,-263],[7.8,-354],[8,-492],
[8.05,-20],[7.85,-45],[8.25,-70],[7.95,-115],[8.15,-145],[8.05,-210],
[9.2,211],[9.1,111],[8.9,-11],[9.2,-34],[9,-72],[8.8,-102],[9.2,-133],[8.9,-163],[9.1,-194],[8.8,-255],
[9.7,-72],[10,-11],[10.2,-49],[9.9,-102],[9.8,-240],[10.1,-308],[9.8,-293],[10.2,-140],
[11.2,20],[11,-11],[10.8,-49],[11.1,-87],[10.9,-125],[11.3,-163],[11.2,-270],[11.3,-316],
[11.7,2],[11.9,-3],[12.2,-34],[11.7,-64],[12.1,-87],[11.9,-118],[12.2,-148],[11.7,-179],[12,-316],[11.7,-347],[11.9,-324],
[13.3,58],[12.8,-34],[13.1,-64],[12.9,-102],[13.2,-140],[12.9,-201],[13,-240],[12.7,-324],[13,-420],
[13.8,12],[14.1,-11],[13.8,-34],[14.2,-56],[14,-87],[13.8,-118],[14.1,-148],[13.9,-179],[14.2,-224],[13.8,-270],[14.1,-316],[14.1,-400],[14,-354],[14,-30],[13.9,-70],
[14.05,0],[13.85,-20],[14.15,-45],[13.95,-100],[14.25,-130],[13.85,-160],[14.05,-200],[14.25,-250],
[15,12],[15.2,-26],[14.9,-64],[15.3,-102],[15,-148],[15.2,-270],
[16,-3],[15.9,-49],[16.1,-95],[15.8,-148],[15.7,-240],[15.8,-308],
[17.1,-3],[17.2,-56],[17.1,-270],
[17.8,-26],[18.1,-102],[18.3,-110],
[18.9,-64],[19.1,-102],[18.9,-308],
[19.7,23],[20.1,-41],[19.9,-102],[20,-194],[20.1,-224],[19.9,-286],[20,-339],
[21,43],[20.8,20],[21.2,12],[21,-18],[21.1,-72],[20.8,-102],[21.3,-121],[20.8,-224],[20.8,-415],[21.2,-240]];
const cstW8Fit11 = [[1,-148],[3,-130],[5,-118],[7,-111],[9,-107],[11,-107],[13,-105],[15,-107],[17,-110],[19,-115],[21,-128],[22,-145]];
const cstW8Fit15 = [[2,-157],[3,-145],[4,-136],[5,-128],[6,-121],[7,-115],[8,-110],[9,-110],[10,-111],[11,-115],[12,-118],[13,-121],[14,-119],[15,-116],[16,-115],[17,-113],[18,-110],[19,-107],[20,-105],[21,-105]];

// F: Week 48 CST changes
const cstW48Sb11 = [[0.7,-224],[1.2,-228],
[1.7,-87],[1.8,-72],[2,-64],[2.1,-56],[1.9,-118],[2,-110],[1.8,-228],[1.7,-339],[1.9,-334],[2.2,-301],
[2.8,-26],[3,-23],[3.2,-34],[2.8,-49],[3,-72],[3.3,-79],[2.7,-99],[3.1,-118],[2.9,-140],[3.3,-148],[2.8,-186],[3.1,-201],[2.7,-214],[3.2,-224],[3.3,-260],
[3.8,-34],[3.8,-79],[4,-102],[3.9,-140],[4.1,-186],[3.7,-201],[4.2,-201],[3.9,-240],[3.8,-255],[3.8,-324],[4.1,-431],[4.3,-476],
[5.1,176],[5,5],[5.2,12],[4.8,-23],[5.1,-34],[4.8,-64],[5,-87],[5.3,-102],[4.9,-125],[5.1,-171],[4.8,-206],[5,-243],[4.7,-252],[5.1,-286],[5,-301],[5.2,-328],
[5.8,93],[6,32],[6.1,8],[5.7,-18],[6,-41],[5.9,-69],[6.2,-87],[5.8,-110],[6.1,-133],[6,-163],[6.2,-186],[5.8,-224],[6.1,-255],[5.9,-270],[6.3,-301],[5.8,-324],[6.1,-354],[5.8,-380],[6,-400],[6.3,-461],
[6.05,-5],[5.85,-30],[6.15,-55],[5.95,-100],[6.25,-120],[5.85,-150],[6.05,-210],[6.15,-240],
[7.1,96],[6.8,55],[7.1,43],[7.3,20],[6.7,-3],[7,-23],[7.2,-41],[6.8,-60],[7.1,-79],[6.7,-99],[7.3,-118],[6.9,-136],[7.2,-156],[6.8,-176],[7,-194],[7.3,-212],[6.8,-232],[7.1,-255],[6.7,-278],[7.3,-298],[6.9,-316],[7.2,-347],[6.8,-362],[7.1,-385],[7.3,-392],[7.2,-461],[7,-150],[6.9,-90],[7.2,-20],[6.9,-200],
[6.75,30],[7.15,5],[6.95,-10],[7.25,-30],[6.85,-50],[7.05,-70],[6.75,-85],[7.15,-105],[6.95,-125],[7.25,-140],[6.85,-160],[7.05,-185],[6.75,-205],[7.15,-225],[6.95,-245],[7.25,-265],[6.85,-290],[7.05,-330],
[7.9,66],[8.2,27],[7.8,-11],[8.1,-41],[7.9,-72],[8.2,-102],[7.8,-130],[8.1,-163],[7.9,-201],[8.2,-232],[7.8,-270],[8.1,-324],[8,-408],[8.2,-487],[8.3,-179],
[8.05,-25],[7.85,-55],[8.15,-90],[7.95,-115],[8.25,-145],[8.05,-190],
[8.9,-18],[8.7,-41],[9.1,-64],[8.8,-95],[9.1,-125],[8.9,-163],[8.7,-194],[9.1,-240],[8.8,-270],[8.9,-301],[9.2,-350],
[9.8,27],[10,-11],[9.7,-41],[10,-72],[9.8,-102],[10.1,-140],[9.9,-171],[10.3,-450],
[11.1,20],[10.9,-34],[11,-56],[10.8,-87],[11.1,-118],[10.9,-148],[11.1,-186],[10.8,-194],[11,-224],[11,-354],[10.7,-347],
[11.8,96],[12,89],[12.1,20],[11.8,-18],[12,-49],[11.7,-87],[12.1,-121],[11.8,-156],[12,-201],[11.8,-263],[11.8,-365],
[12.9,66],[12.8,32],[13.1,5],[12.8,-34],[13,-64],[12.9,-102],[13.1,-133],[12.8,-179],[13,-224],[13.1,-247],[12.9,-339],[13,-331],
[13.7,131],[13.8,58],[13.9,20],[13.7,-3],[14,-26],[13.8,-49],[14.1,-72],[13.8,-95],[14,-118],[13.7,-140],[14.1,-163],[13.9,-194],[14.1,-224],[13.7,-255],[14,-286],[13.7,-308],[14.1,-374],[14.1,-487],[13.9,-60],[14.1,-130],
[13.85,-15],[14.15,-40],[13.95,-85],[14.25,-105],[13.85,-125],[14.05,-175],[14.25,-205],[13.95,-240],
[14.8,-11],[15,-34],[14.8,-64],[15.1,-95],[14.9,-148],[15.1,-194],[14.7,-255],[15,-270],[15.2,-359],[14.7,-385],
[15.8,12],[16.1,32],[15.9,-34],[15.7,-72],[16,-102],[15.9,-140],[16.1,-179],[15.7,-232],[16.1,-247],[15.9,-316],[16.1,-331],
[17.1,73],[17,35],[17.2,-11],[16.8,-26],[17,-64],[16.9,-125],[16.7,-171],[16.9,-237],[17.1,-286],[17.1,-415],
[18.1,23],[17.8,-41],[18.2,-72],[17.9,-102],[18.1,-163],[17.7,-179],[18.2,-267],
[18.8,5],[18.8,-29],[19,-102],[18.7,-163],[19.2,-176],[18.9,-221],[18.7,-273],[19,-293],
[20,89],[19.7,2],[20.1,-41],[19.9,-72],[20.2,-125],[20,-163],[19.7,-240],[20.1,-316],[20.2,-481],[20.2,-209],
[20.7,173],[20.8,-11],[21.2,-56],[21,-87],[20.8,-118],[21.1,-148],[20.8,-179],[20.7,-247],[21.1,-270],[21.2,-308],[21,-347],[20.8,-385],
[22.3,-206]];
const cstW48Sb15 = [[1.7,-87],
[3,-52],[3.3,-102],[3.2,-148],
[4,-69],[4.2,-140],[4,-179],
[4.9,32],[4.8,-41],[5.1,-102],[5.2,-171],[5.1,-194],[5.2,-240],[5,-301],[4.7,-476],[5.1,-527],
[6,124],[6.3,35],[6,5],[5.8,-18],[6.1,-41],[6,-64],[6.2,-87],[5.9,-118],[6.2,-140],[5.8,-179],[6.1,-240],[5.9,-286],[6,-385],[5.9,-469],
[5.95,20],[6.15,-10],[5.85,-50],[6.05,-100],[6.25,-160],[5.95,-200],
[7,73],[7.2,66],[6.7,20],[7.1,5],[7.3,-14],[6.8,-34],[7.1,-53],[6.7,-72],[7.2,-90],[6.9,-110],[7.2,-130],[6.7,-148],[7,-166],[7.3,-186],[6.9,-206],[7.1,-224],[6.7,-243],[7,-263],[7.3,-286],[6.9,-308],[7.3,-415],[7,-40],[6.8,-100],[7.2,-160],[6.9,-10],
[7.05,40],[6.85,15],[7.15,-5],[6.95,-25],[7.25,-45],[6.75,-60],[7.05,-80],[6.85,-95],[7.15,-120],[6.95,-140],[7.25,-155],[6.75,-175],[7.05,-195],[6.85,-215],[7.15,-235],[6.95,-255],[7.05,-290],
[8.1,50],[7.9,12],[8.2,-18],[7.9,-49],[8.2,-87],[7.8,-118],[8,-156],[8.2,-194],[7.9,-240],[7.7,-286],[8,-347],[8.2,-599],
[7.95,-30],[8.15,-60],[7.85,-100],[8.05,-130],[8.25,-170],[7.95,-210],
[8.9,165],[8.7,78],[8.8,-34],[9.1,-56],[9,-87],[8.7,-118],[9.1,-148],[8.8,-194],[8.7,-293],[9,-435],[9.3,-255],
[9.7,43],[10,5],[9.8,-26],[10.2,-49],[10,-64],[9.9,-240],[9.8,-321],[10.2,-331],[10.3,-374],
[11.1,70],[10.9,5],[10.7,-18],[11.1,-64],[10.9,-110],[11.1,-148],[11,-247],[11.2,-252],[10.9,-339],[10.9,-411],
[11.9,32],[12.2,20],[12,-11],[11.8,-41],[12.1,-72],[11.9,-102],[12.1,-140],[11.8,-179],[12.2,-240],[11.8,-301],[11.7,-450],
[13,35],[12.7,-11],[13.1,-72],[12.8,-102],[13.1,-148],[12.9,-179],[13.2,-224],[12.9,-286],[13,-324],[13.2,-362],
[13.9,66],[14,58],[13.7,20],[14.1,-3],[13.8,-26],[14.1,-56],[13.7,-87],[14,-118],[13.8,-148],[14.1,-179],[13.9,-224],[14,-263],[13.9,-293],[13.8,-415],[14,-438],[14,-100],[13.9,-40],
[14.05,-15],[13.85,-45],[14.15,-70],[13.95,-105],[14.25,-130],[13.85,-165],[14.05,-195],[14.15,-240],
[14.6,2],[15.1,23],[14.8,-41],[15,-79],[14.7,-121],[15.1,-163],[14.9,-201],[15.1,-298],
[15.9,-26],[16.2,-26],[15.7,-72],[16.1,-118],[15.9,-171],[16.1,-194],[15.9,-308],[16.2,-560],
[16.9,-18],[17.2,-11],[16.9,-194],[16.7,-331],
[18.2,-29],[17.9,-99],[18.2,-84],[18.2,-415],
[18.8,-79],[19,-102],[19.1,-350],
[19.8,124],[19.7,-41],[20,-72],[20.2,-148],[20.1,-240],[20,-282],
[20.8,-8],[21,-18],[21.2,-26],[20.9,-64],[21.2,-102],[21,-140],[21.2,-186],[21.2,-263]];
const cstW48Fit11 = [[1,-148],[3,-140],[5,-136],[7,-130],[9,-127],[11,-124],[13,-121],[15,-121],[17,-122],[19,-128],[20,-133],[21,-140],[22,-151]];
const cstW48Fit15 = [[2,-160],[3,-151],[4,-140],[5,-133],[6,-121],[7,-113],[8,-111],[9,-110],[10,-111],[11,-118],[12,-122],[13,-124],[14,-124],[15,-124],[16,-124],[17,-121],[18,-115],[19,-110],[20,-102],[21,-98]];

Chart.defaults.font.family = '"Liberation Sans", Arial, sans-serif';

const panels = [
  { letter: 'A', title: 'Baseline BCVA', yTitle: 'BCVA_baseline', left: 0, top: 0, w: 477, h: 390,
    L: 33, R: 465, T: 57, B: 356, xMin: -0.02, xMax: 23.24, yMin: 27.6, yMax: 82.4,
    yMajor: bcvaTicks, yMinor: bcvaMinor, yPad: 4.7, xPad: 7,
    letterX: 22.5, letterY: 21.7, titleX: 236.7, titleY: 21.7,
    sb11: bcvaBaseSb11, sb15: bcvaBaseSb15, fit11: bcvaBaseFit11, fit15: bcvaBaseFit15 },
  { letter: 'B', title: 'Week 8 BCVA changes', yTitle: 'Δ BCVACHG_Week_8', left: 477, top: 0, w: 477, h: 390,
    L: 37.7, R: 467, T: 57, B: 356, xMin: -0.02, xMax: 23.06, yMin: -54.65, yMax: 54.98,
    yMajor: chgTicks, yMinor: chgMinor, yPad: 6.7, xPad: 7,
    letterX: 501.5, letterY: 21.7, titleX: 730, titleY: 21.7,
    sb11: bcvaW8Sb11, sb15: bcvaW8Sb15, fit11: bcvaW8Fit11, fit15: bcvaW8Fit15 },
  { letter: 'C', title: 'Week 48 BCVA changes', yTitle: 'Δ BCVACHG_Week_48', left: 954, top: 0, w: 478, h: 390,
    L: 39.3, R: 468.7, T: 57, B: 356, xMin: -0.05, xMax: 23.12, yMin: -54.65, yMax: 54.98,
    yMajor: chgTicks, yMinor: chgMinor, yPad: 9, xPad: 7,
    letterX: 979.5, letterY: 21.7, titleX: 1223, titleY: 21.7,
    sb11: bcvaW48Sb11, sb15: bcvaW48Sb15, fit11: bcvaW48Fit11, fit15: bcvaW48Fit15 },
  { letter: 'D', title: 'Baseline CST', yTitle: 'CST_baseline', left: 0, top: 390, w: 477, h: 385,
    L: 41.7, R: 465, T: 54.3, B: 354, xMin: -0.04, xMax: 23.21, yMin: -46.5, yMax: 1051,
    yMajor: cstTicks, yMinor: cstMinor, yPad: 4.7, xPad: 4,
    letterX: 23.5, letterY: 418.3, titleX: 236.7, titleY: 418.3,
    sb11: cstBaseSb11, sb15: cstBaseSb15, fit11: cstBaseFit11, fit15: cstBaseFit15 },
  { letter: 'E', title: 'Week 8 CST changes', yTitle: 'Δ CSTCHG_Week_8', left: 477, top: 390, w: 477, h: 385,
    L: 41.7, R: 467, T: 54.3, B: 354, xMin: -0.06, xMax: 23.38, yMin: -806, yMax: 566,
    yMajor: cstChgTicks, yMinor: cstChgMinor, yPad: 7.3, xPad: 4,
    letterX: 500, letterY: 418.3, titleX: 714.5, titleY: 418.3,
    sb11: cstW8Sb11, sb15: cstW8Sb15, fit11: cstW8Fit11, fit15: cstW8Fit15 },
  { letter: 'F', title: 'Week 48 CST changes', yTitle: 'Δ CSTCHG_Week_48', left: 954, top: 390, w: 478, h: 385,
    L: 43.7, R: 469, T: 54.3, B: 354, xMin: -0.36, xMax: 23.35, yMin: -806, yMax: 566,
    yMajor: cstChgTicks, yMinor: cstChgMinor, yPad: 9, xPad: 4,
    letterX: 978.5, letterY: 418.3, titleX: 1192.8, titleY: 418.3,
    sb11: cstW48Sb11, sb15: cstW48Sb15, fit11: cstW48Fit11, fit15: cstW48Fit15 }
];

// light panel border on top / right (left and bottom come from the axis lines)
const framePlugin = {
  id: 'frame',
  afterDraw(chart) {
    const { ctx, chartArea: a } = chart;
    ctx.save();
    ctx.strokeStyle = '#b0b0b0';
    ctx.lineWidth = 1;
    ctx.beginPath();
    ctx.moveTo(Math.round(a.left) + 0.5, Math.round(a.top) + 0.5);
    ctx.lineTo(Math.round(a.right) - 0.5, Math.round(a.top) + 0.5);
    ctx.lineTo(Math.round(a.right) - 0.5, Math.round(a.bottom));
    ctx.stroke();
    ctx.restore();
  }
};

function isMajorX(v) { return Number.isInteger(v); }

function legendHtml() {
  return '<div class="key" style="top:13px"><i style="background:' + RED + '"></i><b style="background:' + RED + '"></b><span>sb11</span></div>' +
         '<div class="key" style="top:29px"><i style="background:' + BLUE + '"></i><b style="background:' + BLUE + '"></b><span>sb15</span></div>';
}

function buildPanel(p) {
  const page = document.getElementById('page');
  const mark = document.getElementById('mark');

  const box = document.createElement('div');
  box.className = 'panel';
  box.style.left = p.left + 'px';
  box.style.top = p.top + 'px';
  box.style.width = p.w + 'px';
  box.style.height = p.h + 'px';
  const cv = document.createElement('canvas');
  cv.width = p.w;
  cv.height = p.h;
  box.appendChild(cv);

  const lg = document.createElement('div');
  lg.className = 'legend';
  lg.style.left = (p.R - 68) + 'px';
  lg.style.top = (p.T + 5) + 'px';
  lg.innerHTML = legendHtml();
  box.appendChild(lg);
  page.insertBefore(box, mark);

  const letter = document.createElement('div');
  letter.className = 'letter';
  letter.textContent = p.letter;
  letter.style.left = p.letterX + 'px';
  letter.style.top = p.letterY + 'px';
  page.insertBefore(letter, mark);

  const title = document.createElement('div');
  title.className = 'title';
  title.textContent = p.title;
  title.style.left = p.titleX + 'px';
  title.style.top = p.titleY + 'px';
  page.insertBefore(title, mark);

  const yGrid = p.yMajor.concat(p.yMinor).sort((a, b) => a - b);

  new Chart(cv.getContext('2d'), {
    type: 'scatter',
    data: {
      datasets: [
        { type: 'line', label: 'sb11 fit', data: p.fit11, borderColor: RED, borderWidth: 2, pointRadius: 0, fill: false, cubicInterpolationMode: 'monotone', order: 0 },
        { type: 'line', label: 'sb15 fit', data: p.fit15, borderColor: BLUE, borderWidth: 2, pointRadius: 0, fill: false, cubicInterpolationMode: 'monotone', order: 0 },
        { label: 'sb11', data: p.sb11, backgroundColor: RED, borderWidth: 0, pointRadius: 2.4, order: 1 },
        { label: 'sb15', data: p.sb15, backgroundColor: BLUE, borderWidth: 0, pointRadius: 2.4, order: 2 }
      ]
    },
    options: {
      responsive: false,
      animation: false,
      events: [],
      layout: { padding: { top: p.T, right: p.w - p.R, left: 0, bottom: 0 } },
      plugins: { legend: { display: false }, tooltip: { enabled: false } },
      scales: {
        x: {
          type: 'linear', min: p.xMin, max: p.xMax,
          afterBuildTicks: s => { s.ticks = xGrid.map(v => ({ value: v })); },
          afterFit: s => { s.height = p.h - p.B; },
          ticks: {
            autoSkip: false, maxRotation: 0, minRotation: 0, padding: 0,
            color: '#4d4d4d', font: { size: 8 },
            callback: v => isMajorX(v) ? screeningLabels[v - 1] : ''
          },
          grid: {
            color: c => (c.tick && isMajorX(c.tick.value)) ? '#e6e6e6' : '#f3f3f3',
            tickColor: c => (c.tick && isMajorX(c.tick.value)) ? '#333' : 'rgba(0,0,0,0)',
            tickLength: 4, lineWidth: 1
          },
          border: { color: '#777' },
          title: { display: true, text: 'screening time', color: '#1a1a1a', font: { size: 10 }, padding: { top: 0, bottom: p.xPad } }
        },
        y: {
          type: 'linear', min: p.yMin, max: p.yMax,
          afterBuildTicks: s => { s.ticks = yGrid.map(v => ({ value: v })); },
          afterFit: s => { s.width = p.L; },
          ticks: {
            autoSkip: false, padding: 2, color: '#4d4d4d', font: { size: 8 },
            callback: v => p.yMajor.includes(v) ? String(v) : ''
          },
          grid: {
            color: c => (c.tick && p.yMajor.includes(c.tick.value)) ? '#e6e6e6' : '#f3f3f3',
            tickColor: c => (c.tick && p.yMajor.includes(c.tick.value)) ? '#333' : 'rgba(0,0,0,0)',
            tickLength: 4, lineWidth: 1
          },
          border: { color: '#777' },
          title: { display: true, text: p.yTitle, color: '#1a1a1a', font: { size: 10 }, padding: { top: p.yPad, bottom: 0 } }
        }
      }
    },
    plugins: [framePlugin]
  });
}

panels.forEach(buildPanel);
</script>
</body>
</html>
